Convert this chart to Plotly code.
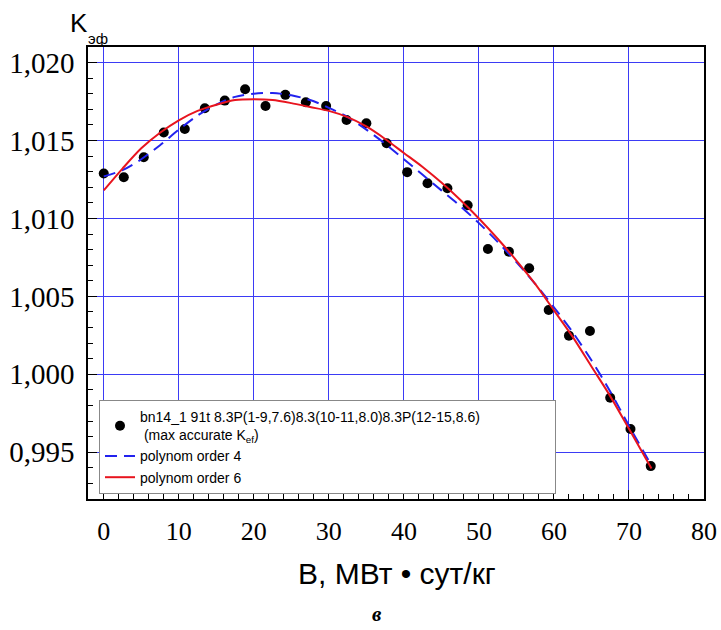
import plotly.graph_objects as go

# Measured points
burnup = [0, 2.67, 5.33, 8.0, 10.8, 13.47, 16.13, 18.84, 21.56, 24.2, 26.93, 29.64,
          32.36, 35.0, 37.7, 40.44, 43.15, 45.8, 48.5, 51.2, 54.0, 56.7, 59.3, 62.0,
          64.8, 67.5, 70.2, 72.9]
keff = [1.01288, 1.01264, 1.01393, 1.01551, 1.01574, 1.01707, 1.01756, 1.01829,
        1.01722, 1.01793, 1.01746, 1.01722, 1.01632, 1.01611, 1.01483, 1.01297,
        1.01226, 1.01194, 1.01085, 1.00804, 1.00787, 1.00680, 1.00413, 1.00248,
        1.00278, 0.99850, 0.99649, 0.99411]

# Fit curves
fit_x = [0, 2.5, 5, 7.5, 10, 12.5, 15, 17.5, 20, 22.5, 25, 27.5, 30, 32.5, 35, 37.5,
         40, 42.5, 45, 47.5, 50, 52.5, 55, 57.5, 60, 62.5, 65, 67.5, 70, 73]
poly4 = [1.0127, 1.0131, 1.0138, 1.0147, 1.0157, 1.0166, 1.0173, 1.0178, 1.0180, 1.01805,
         1.0179, 1.0176, 1.0171, 1.0165, 1.0157, 1.0148, 1.0138, 1.0128, 1.0118, 1.0108,
         1.0097, 1.0085, 1.0072, 1.0058, 1.0043, 1.0027, 1.0009, 0.9989, 0.9967, 0.99415]
poly6 = [1.0118, 1.0132, 1.0145, 1.0155, 1.0163, 1.0169, 1.0173, 1.0176, 1.01765, 1.0176,
         1.0174, 1.01715, 1.0169, 1.0165, 1.0159, 1.0151, 1.0142, 1.0133, 1.0123, 1.0112,
         1.0100, 1.0087, 1.0073, 1.0058, 1.0041, 1.0024, 1.0005, 0.9986, 0.9965, 0.99395]

x_ticks = [0, 10, 20, 30, 40, 50, 60, 70, 80]
y_ticks = [0.995, 1.000, 1.005, 1.010, 1.015, 1.020]
y_tick_text = ["0,995", "1,000", "1,005", "1,010", "1,015", "1,020"]

fig = go.Figure()
fig.add_trace(go.Scatter(
    x=burnup, y=keff, mode="markers",
    marker=dict(color="black", size=10),
    name="bn14_1 91t 8.3P(1-9,7.6)8.3(10-11,8.0)8.3P(12-15,8.6)" + "&nbsp;" * 18
         + "<br> (max accurate K<sub>ef</sub>)"))
fig.add_trace(go.Scatter(
    x=fit_x, y=poly4, mode="lines",
    line=dict(color="#2222ee", width=2, dash="12px,7px", shape="spline", smoothing=0.8),
    name="polynom order 4"))
fig.add_trace(go.Scatter(
    x=fit_x, y=poly6, mode="lines",
    line=dict(color="#e8141e", width=2, shape="spline", smoothing=0.8),
    name="polynom order 6"))

axis_common = dict(
    showline=True, linecolor="black", linewidth=1.5, mirror=True,
    showgrid=True, gridcolor="#3b3bf5", gridwidth=1,
    ticks="inside", tickcolor="black", ticklen=9, tickwidth=1,
    zeroline=False, automargin=False,
)

fig.update_xaxes(
    range=[-2.1, 80], tickmode="array", tickvals=x_ticks,
    minor=dict(dtick=2, ticks="inside", ticklen=5, tickcolor="black", showgrid=False),
    ticklabelstandoff=8,
    tickfont=dict(family="Liberation Serif", size=26, color="black"),
    **axis_common)
fig.update_yaxes(
    range=[0.9920, 1.0210], tickmode="array", tickvals=y_ticks, ticktext=y_tick_text,
    minor=dict(dtick=0.001, tick0=0.995, ticks="inside", ticklen=5, tickcolor="black", showgrid=False),
    ticklabelstandoff=6,
    tickfont=dict(family="Liberation Serif", size=29, color="black"),
    **axis_common)

W, H = 721, 630
L, R, T, B = 88, 17, 47, 131
pw, ph = W - L - R, H - T - B


def px(xp):
    return (xp - L) / pw


def py(yp):
    return (H - B - yp) / ph


fig.update_layout(
    width=W, height=H,
    margin=dict(l=L, r=R, t=T, b=B),
    plot_bgcolor="white", paper_bgcolor="white",
    showlegend=True,
    legend=dict(
        x=px(99), y=py(400), xanchor="left", yanchor="top",
        bgcolor="white", bordercolor="#888888", borderwidth=1,
        font=dict(family="Liberation Sans", size=14, color="black"),
        tracegroupgap=0, itemwidth=30,
    ),
    annotations=[
        dict(text="K", x=px(68), y=py(23), showarrow=False,
             font=dict(family="Liberation Sans", size=26, color="black"), xanchor="left", yanchor="middle"),
        dict(text="эф", x=px(86), y=py(39), showarrow=False,
             font=dict(family="Liberation Sans", size=15, color="black"), xanchor="left", yanchor="middle"),
        dict(text="B, МВт • сут/кг", x=px(397), y=py(573), showarrow=False,
             font=dict(family="Liberation Sans", size=30, color="black"), xanchor="center", yanchor="middle"),
        dict(text="<b><i>в</i></b>", x=px(377), y=py(614), showarrow=False,
             font=dict(family="Liberation Serif", size=21, color="black"), xanchor="center", yanchor="middle"),
    ],
)
for a in fig.layout.annotations:
    a.xref = "paper"
    a.yref = "paper"

fig.write_html(
    "out.html",
    config={"displayModeBar": False},
    post_script="document.body.style.margin='0px';document.body.style.padding='0px';",
)
